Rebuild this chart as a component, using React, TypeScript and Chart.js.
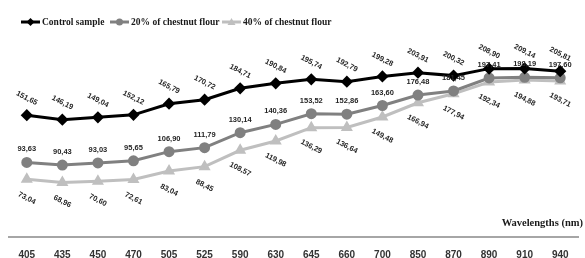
import React, { useEffect, useRef } from "react";
import { Chart, registerables } from "chart.js";

Chart.register(...registerables);

const wavelengths = ["405", "435", "450", "470", "505", "525", "590", "630", "645", "660", "700", "850", "870", "890", "910", "940"];
const controlValues = [151.65, 146.19, 149.04, 152.12, 165.79, 170.72, 184.71, 190.84, 195.74, 192.79, 199.28, 203.91, 200.32, 208.9, 209.14, 205.81];
const chestnut20Values = [93.63, 90.43, 93.03, 95.65, 106.9, 111.79, 130.14, 140.36, 153.52, 152.86, 163.6, 176.48, 181.45, 197.41, 198.19, 197.6];
const chestnut40Values = [73.04, 68.96, 70.6, 72.61, 83.04, 88.45, 108.57, 119.98, 136.29, 136.64, 149.48, 166.94, 177.94, 192.34, 194.88, 193.71];
const seriesNames = ["Control sample", "20% of chestnut flour", "40% of chestnut flour"];
const axisTitle = "Wavelengths (nm)";

const colors = ["#000000", "#808080", "#bfbfbf"];
const markers = ["rectRot", "circle", "triangle"];

const fmt = (v: number) => v.toFixed(2).replace(".", ",");

const labelCfg = [
  { dy: -17, rot: 27 },
  { dy: -13, rot: 0 },
  { dy: 19, rot: 27 },
];

const labelsPlugin = {
  id: "valueLabels",
  afterDatasetsDraw(chart: any) {
    const ctx = chart.ctx;
    ctx.save();
    ctx.font = "bold 7.5px 'Liberation Sans', Arial, sans-serif";
    ctx.fillStyle = "#262626";
    ctx.textAlign = "center";
    ctx.textBaseline = "middle";
    chart.data.datasets.forEach((ds: any, di: number) => {
      const meta = chart.getDatasetMeta(di);
      const cfg = labelCfg[di];
      meta.data.forEach((pt: any, i: number) => {
        ctx.save();
        ctx.translate(pt.x, pt.y + cfg.dy);
        ctx.rotate((cfg.rot * Math.PI) / 180);
        ctx.fillText(fmt(ds.data[i]), 0, 0);
        ctx.restore();
      });
    });
    ctx.restore();
  },
};

const legendPlugin = {
  id: "customLegend",
  afterDraw(chart: any) {
    const ctx = chart.ctx;
    ctx.save();
    const starts = [21, 110, 222];
    const y = 22;
    ctx.font = "bold 9.5px 'Liberation Serif', 'Times New Roman', serif";
    ctx.textBaseline = "middle";
    ctx.textAlign = "left";
    seriesNames.forEach((name, i) => {
      const x0 = starts[i];
      ctx.strokeStyle = colors[i];
      ctx.lineWidth = 3;
      ctx.beginPath();
      ctx.moveTo(x0, y);
      ctx.lineTo(x0 + 19, y);
      ctx.stroke();
      ctx.fillStyle = colors[i];
      ctx.beginPath();
      const cx = x0 + 9.5;
      if (i === 0) {
        ctx.moveTo(cx, y - 4);
        ctx.lineTo(cx + 4, y);
        ctx.lineTo(cx, y + 4);
        ctx.lineTo(cx - 4, y);
      } else if (i === 1) {
        ctx.arc(cx, y, 3.5, 0, Math.PI * 2);
      } else {
        ctx.moveTo(cx, y - 4);
        ctx.lineTo(cx + 4, y + 3);
        ctx.lineTo(cx - 4, y + 3);
      }
      ctx.closePath();
      ctx.fill();
      ctx.fillStyle = "#1a1a1a";
      ctx.fillText(name, x0 + 21, y + 0.5);
    });
    ctx.font = "bold 10.5px 'Liberation Serif', 'Times New Roman', serif";
    ctx.textAlign = "right";
    ctx.fillStyle = "#1a1a1a";
    ctx.fillText(axisTitle, 583, 223);
    ctx.restore();
  },
};

export default function App() {
  const ref = useRef<HTMLCanvasElement>(null);
  useEffect(() => {
    document.body.style.margin = "0";
    const canvas = ref.current!;
    const mk = (i: number, data: number[]) => ({
      label: seriesNames[i],
      data,
      borderColor: colors[i],
      backgroundColor: colors[i],
      pointBackgroundColor: colors[i],
      pointBorderColor: colors[i],
      pointStyle: markers[i],
      pointRadius: 4,
      borderWidth: 3,
      tension: 0,
    });
    const chart = new Chart(canvas, {
      type: "line",
      data: {
        labels: wavelengths,
        datasets: [mk(0, controlValues), mk(1, chestnut20Values), mk(2, chestnut40Values)],
      },
      options: {
        animation: false,
        responsive: false,
        maintainAspectRatio: false,
        layout: { padding: { top: 36, left: 9, right: 2, bottom: 0 } },
        plugins: { legend: { display: false }, tooltip: { enabled: false } },
        scales: {
          x: {
            offset: true,
            grid: { display: false, drawTicks: false },
            border: { display: true, color: "#a6a6a6", width: 2 },
            afterFit: (s: any) => {
              s.height = 21;
            },
            ticks: {
              padding: 12,
              color: "#333333",
              font: { family: "'Liberation Sans', Arial, sans-serif", size: 10, weight: "bold" },
              maxRotation: 0,
              autoSkip: false,
            },
          },
          y: { display: false, min: 2, max: 249 },
        },
      },
      plugins: [labelsPlugin, legendPlugin],
    });
    return () => chart.destroy();
  }, []);
  return <canvas ref={ref} width={585} height={258} style={{ display: "block" }} />;
}
